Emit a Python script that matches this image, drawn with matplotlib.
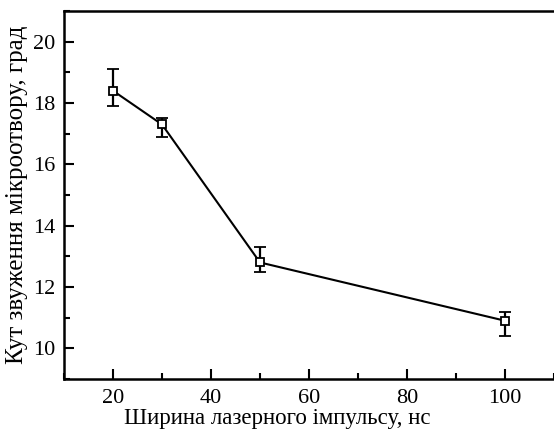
import matplotlib
matplotlib.use('Agg')
import matplotlib.pyplot as plt
from matplotlib.ticker import MultipleLocator

# pulse width, ns
pulse_width = [20, 30, 50, 100]
# narrowing angle, deg
angle = [18.4, 17.3, 12.8, 10.9]
err_low = [0.5, 0.4, 0.3, 0.5]
err_high = [0.7, 0.2, 0.5, 0.3]

x_ticks = [20, 40, 60, 80, 100]
y_ticks = [10, 12, 14, 16, 18, 20]

plt.rcParams['font.family'] = ['Liberation Serif', 'DejaVu Serif']

fig = plt.figure(figsize=(5.54, 4.34), dpi=100)
ax = fig.add_axes([64/554, 55/434, 1 - 64/554, (379-11)/434])

ax.errorbar(pulse_width, angle, yerr=[err_low, err_high], color='black',
            lw=1.5, elinewidth=1.6, capsize=4.5, capthick=1.6,
            marker='s', markersize=6, markerfacecolor='white',
            markeredgecolor='black', markeredgewidth=1.3)

ax.set_xlim(10, 110)
ax.set_ylim(9, 21)
ax.set_xticks(x_ticks)
ax.set_yticks(y_ticks)
ax.xaxis.set_minor_locator(MultipleLocator(10))
ax.yaxis.set_minor_locator(MultipleLocator(1))
ax.tick_params(which='both', direction='in', top=False, right=False,
               labelsize=16, width=1.5)
ax.tick_params(which='major', length=7)
ax.tick_params(which='minor', length=4)
ax.tick_params(axis='x', which='major', pad=7)
ax.tick_params(axis='y', which='major', pad=6)
ax.spines['right'].set_visible(False)
for s in ['left', 'bottom', 'top']:
    ax.spines[s].set_linewidth(1.8)

ax.set_xlabel('Ширина лазерного імпульсу, нс', fontsize=16.5)
ax.set_ylabel('Кут звуження мікроотвору, град', fontsize=18)
ax.xaxis.set_label_coords(0.435, -0.08)
ax.yaxis.set_label_coords(-0.073, 0.5)

fig.savefig('out.png', dpi=100)
